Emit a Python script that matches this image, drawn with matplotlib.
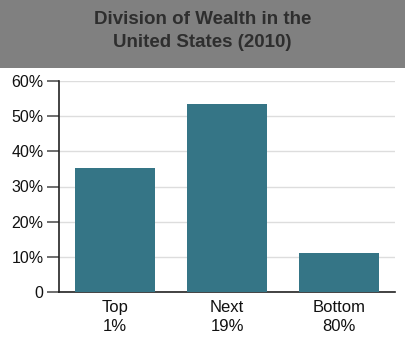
import matplotlib
matplotlib.use("Agg")
import matplotlib.pyplot as plt
from matplotlib.patches import Rectangle

plt.rcParams['font.family'] = ['Liberation Sans', 'DejaVu Sans']

categories = ["Top\n1%", "Next\n19%", "Bottom\n80%"]
shares = [35.4, 53.5, 11.1]
yticks = [0, 10, 20, 30, 40, 50, 60]
ytick_labels = ["0", "10%", "20%", "30%", "40%", "50%", "60%"]

fig = plt.figure(figsize=(4.05, 3.4), dpi=100)
fig.patch.set_facecolor("white")

# grey title band
fig.patches.append(Rectangle((0, 1 - 68 / 340), 1, 68 / 340, transform=fig.transFigure,
                             facecolor="#808080", edgecolor="none", zorder=0))
fig.text(0.5, 1 - 31 / 340, "Division of Wealth in the\nUnited States (2010)",
         ha="center", va="center", fontsize=13.5, fontweight="bold",
         color="#2e2e2e", linespacing=1.4)

ax = fig.add_axes([59 / 405, 1 - 292 / 340, 336 / 405, 211 / 340])
x = range(len(categories))
ax.bar(x, shares, width=0.72, color="#357586", zorder=3)

ax.set_xlim(-0.5, 2.5)
ax.set_ylim(0, 60)
ax.set_yticks(yticks)
ax.set_yticklabels(ytick_labels)
ax.set_xticks(list(x))
ax.set_xticklabels(categories, linespacing=1.3)
ax.yaxis.grid(True, color="#dddddd", linewidth=1, zorder=0)
ax.tick_params(axis="y", length=9, width=1.2, color="#555555", labelsize=11.5,
               labelcolor="#111111", pad=2)
ax.tick_params(axis="x", length=0, labelsize=12, labelcolor="#111111", pad=6)
for s in ["top", "right"]:
    ax.spines[s].set_visible(False)
for s in ["left", "bottom"]:
    ax.spines[s].set_color("#222222")
    ax.spines[s].set_linewidth(1.2)

fig.savefig("out.png", dpi=100)
